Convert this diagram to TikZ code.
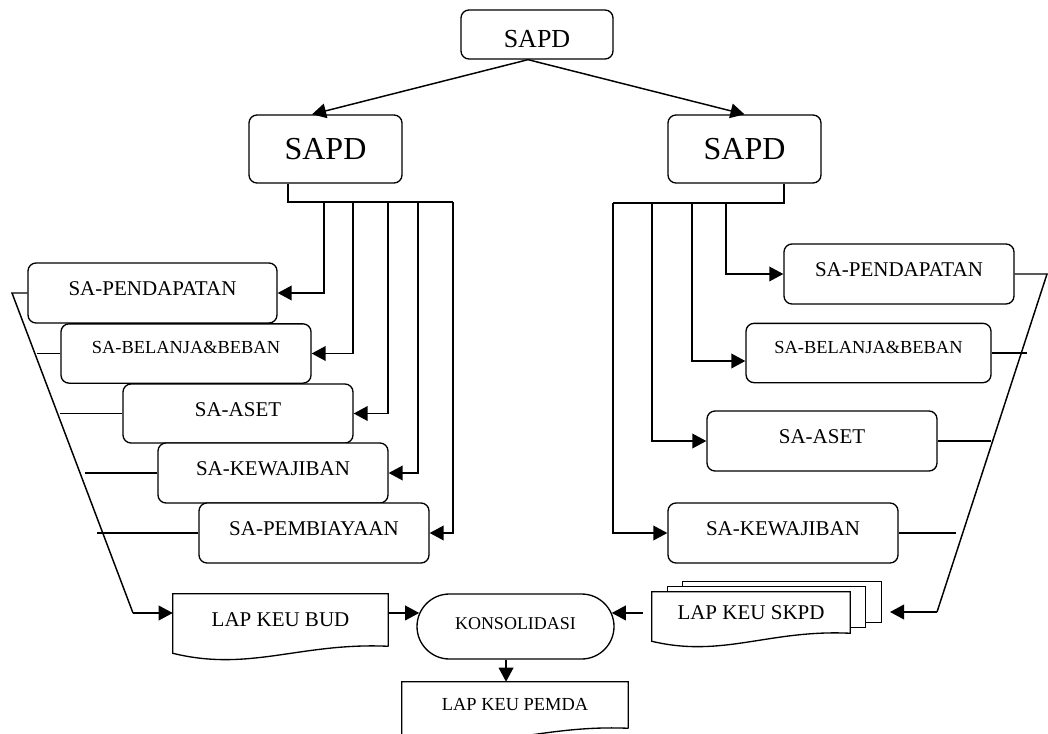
\documentclass[tikz,border=0pt]{standalone}
\usepackage{fontspec}
\setmainfont{Liberation Serif}
\usetikzlibrary{arrows.meta,shapes.misc}
\begin{document}
\begin{tikzpicture}[x=0.75pt,y=-0.75pt,
  box/.style={draw, rounded corners=6pt, line width=1pt, inner sep=0pt, fill=white},
  sabox/.style={box, font=\fontsize{15.75}{18}\selectfont, text depth=6pt, minimum height=45pt, minimum width=172.5pt},
  smallbox/.style={box, font=\fontsize{13.8}{16}\selectfont, text depth=9pt, minimum height=44.5pt},
  bigbox/.style={box, font=\fontsize{24}{28}\selectfont, minimum width=114.75pt, minimum height=51pt},
  docbox/.style={inner sep=0pt},
  docline/.style={line width=1pt, line join=miter},
  conn/.style={line width=1.1pt},
  arr/.style={conn, -{Triangle[length=10.5pt,width=11pt]}},
]
\clip (0,0) rectangle (1048,734);

% top level
\node[box, font=\fontsize{19.5}{22}\selectfont, text height=19pt, text depth=0pt,
      minimum width=114pt, minimum height=36.75pt] (top) at (537,34.5) {SAPD};
\node[bigbox] (sapdL) at (325.5,149) {SAPD};
\node[bigbox] (sapdR) at (744.5,149) {SAPD};
\draw[arr] ([xshift=-6.75pt]top.south) -- ([xshift=-10.1pt]sapdL.north);
\draw[arr] ([xshift=-6.75pt]top.south) -- (sapdR.north);

% left boxes
\node[sabox, minimum width=186.75pt] (pendL) at (152.5,293) {SA-PENDAPATAN};
\node[smallbox, minimum width=187.5pt] (belL) at (186,353.5) {SA-BELANJA\&BEBAN};
\node[sabox, minimum height=44.25pt] (asetL) at (238,413.5) {SA-ASET};
\node[sabox] (kewL) at (273,473) {SA-KEWAJIBAN};
\node[sabox] (pembL) at (314,533) {SA-PEMBIAYAAN};

% right boxes
\node[sabox] (pendR) at (899,274) {SA-PENDAPATAN};
\node[smallbox, minimum width=183.75pt] (belR) at (868.5,353) {SA-BELANJA\&BEBAN};
\node[sabox] (asetR) at (822,441) {SA-ASET};
\node[sabox] (kewR) at (783,533) {SA-KEWAJIBAN};

% left tree
\coordinate (lb1) at (324,202);
\coordinate (lb2) at (353,202);
\coordinate (lb3) at (388,202);
\coordinate (lb4) at (418,202);
\coordinate (lb5) at (453,202);
\draw[conn] ([xshift=-28.1pt]sapdL.south) |- (lb5);
\draw[arr] (lb1) |- (pendL.east);
\draw[arr] (lb2) |- (belL.east);
\draw[arr] (lb3) |- (asetL.east);
\draw[arr] (lb4) |- (kewL.east);
\draw[arr] (lb5) |- (pembL.east);

% right tree
\coordinate (rb1) at (613,203);
\coordinate (rb2) at (652,203);
\coordinate (rb3) at (692,203);
\coordinate (rb4) at (726,203);
\draw[conn] ([xshift=29.6pt]sapdR.south) |- (rb1);
\draw[arr] (rb4) |- (pendR.west);
\draw[arr] (rb3) |- ([yshift=-6pt]belR.west);
\draw[arr] (rb2) |- (asetR.west);
\draw[arr] (rb1) |- (kewR.west);

% bottom documents
\node[docbox, font=\fontsize{15.75}{18}\selectfont, minimum width=161.25pt, minimum height=39pt] (bud) at (280.5,620) {LAP KEU BUD};
\draw[docline] (bud.south east) -- (bud.north east) -- (bud.north west) -- ([yshift=-5.25pt]bud.south west)
  .. controls +(77,19) and +(-88,-4) .. (bud.south east);

\node[draw, rounded rectangle, line width=1pt, inner sep=0pt, minimum width=147.75pt, minimum height=48.75pt,
      font=\fontsize{13.5}{16}\selectfont, text depth=5pt] (kons) at (515.5,626.5) {KONSOLIDASI};

\node[docbox, font=\fontsize{13.8}{16}\selectfont, minimum width=169.5pt, minimum height=34.5pt] (pemda) at (515,705) {LAP KEU PEMDA};
\draw[docline] (pemda.south east) -- (pemda.north east) -- (pemda.north west) -- ([yshift=-5.25pt]pemda.south west)
  .. controls +(81,20) and +(-92,-4) .. (pemda.south east);

\node[docbox, font=\fontsize{15.75}{18}\selectfont, minimum width=148.5pt, minimum height=30.75pt] (skpd) at (751,612.5) {};
\filldraw[docline, fill=white] ([shift={(31,-10.5)}]skpd.north west) rectangle ([shift={(31,-10.5)}]skpd.south east);
\filldraw[docline, fill=white] ([shift={(15.5,-5.5)}]skpd.north west) rectangle ([shift={(15.5,-5.5)}]skpd.south east);
\filldraw[docline, fill=white] (skpd.south east) -- (skpd.north east) -- (skpd.north west) -- ([yshift=-6pt]skpd.south west)
  .. controls +(71,17) and +(-81,-4) .. (skpd.south east) -- cycle;
\node[docbox, font=\fontsize{15.75}{18}\selectfont] at (skpd.center) {LAP KEU SKPD};

% left collector
\coordinate (lsT) at (12,293);
\coordinate (lsB) at (133,613);
\draw[conn] (pendL.west) -- (lsT) -- (lsB);
\draw[arr] (lsB) -- (lsB -| bud.west);
\draw[conn] (belL.west) -- ++(-23,0);
\draw[conn] (asetL.west) -- ++(-62,0);
\draw[conn] (kewL.west) -- ++(-72,0);
\draw[conn] (pembL.west) -- ++(-101,0);

% right collector
\coordinate (rsT) at (1047,274);
\coordinate (rsB) at (937,612);
\coordinate (skpdin) at (890,612);
\draw[conn] (pendR.east) -- (rsT) -- (rsB);
\draw[arr] (rsB) -- (skpdin);
\draw[conn] (belR.east) -- ++(35,0);
\draw[conn] (asetR.east) -- ++(53,0);
\draw[conn] (kewR.east) -- ++(57,0);

% into / out of consolidation
\coordinate (skpdout) at ([xshift=-6.75pt]skpd.west);
\draw[arr] (bud.east |- kons.172) -- (kons.172);
\draw[arr] (skpdout |- kons.8) -- (kons.8);
\coordinate (kd) at ([xshift=-7.1pt]kons.south);
\draw[arr] (kd) -- (kd |- pemda.north);
\end{tikzpicture}
\end{document}
